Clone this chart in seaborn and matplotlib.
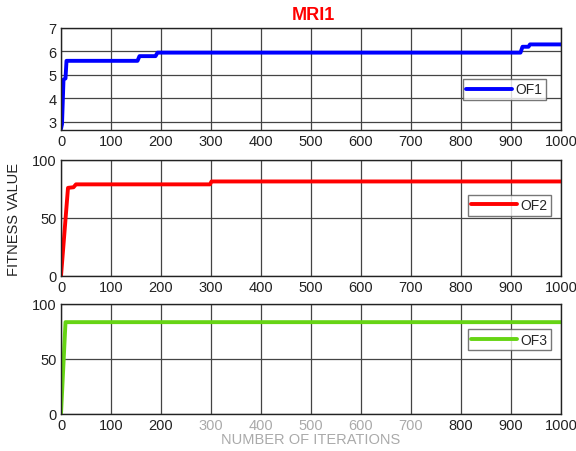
import matplotlib
matplotlib.use("Agg")
import matplotlib.pyplot as plt
import seaborn as sns
import pandas as pd

# ---- data ----
iters_of1 = [0, 2, 5, 9, 11, 153, 157, 189, 193, 919, 923, 935, 938, 1000]
vals_of1 = [2.7, 2.9, 4.8, 4.85, 5.6, 5.6, 5.8, 5.8, 5.95, 5.95, 6.2, 6.2, 6.3, 6.3]
iters_of2 = [0, 14, 25, 30, 298, 301, 1000]
vals_of2 = [0, 76, 76.5, 79, 79, 81.5, 81.5]
iters_of3 = [0, 9, 1000]
vals_of3 = [0, 83.5, 83.5]
x_ticks = [0, 100, 200, 300, 400, 500, 600, 700, 800, 900, 1000]
y_ticks_1 = [3, 4, 5, 6, 7]
y_ticks_23 = [0, 50, 100]

sns.set_theme(style="white")
plt.rcParams['font.family'] = ['Liberation Sans', 'DejaVu Sans']

fig = plt.figure(figsize=(5.76, 4.52), dpi=100)
left, width = 61 / 576, 500 / 576
rects = [
    (left, 1 - 131 / 452, width, 102 / 452),
    (left, 1 - 277 / 452, width, 116 / 452),
    (left, 1 - 415 / 452, width, 110 / 452),
]
series = [
    (iters_of1, vals_of1, "OF1", "#0000FF", (2.65, 7), y_ticks_1, (0.803, 0.50)),
    (iters_of2, vals_of2, "OF2", "#FF0000", (0, 100), y_ticks_23, (0.813, 0.70)),
    (iters_of3, vals_of3, "OF3", "#66D414", (0, 100), y_ticks_23, (0.813, 0.77)),
]

axes = []
for rect, (xs, ys, name, col, ylim, yt, lpos) in zip(rects, series):
    ax = fig.add_axes(rect)
    df = pd.DataFrame({"x": xs, "y": ys, "s": name})
    sns.lineplot(data=df, x="x", y="y", hue="s", palette=[col], sort=False,
                 estimator=None, linewidth=2.8, ax=ax)
    ax.set_xlim(0, 1000)
    ax.set_ylim(*ylim)
    ax.set_xticks(x_ticks)
    ax.set_yticks(yt)
    ax.set_xlabel("")
    ax.set_ylabel("")
    ax.grid(True, color="#444444", linewidth=0.9)
    ax.set_axisbelow(True)
    for sp in ax.spines.values():
        sp.set_color("#222222")
        sp.set_linewidth(1.0)
        sp.set_visible(True)
    ax.tick_params(axis="both", labelsize=10.5, length=0, pad=3, colors="#222222")
    leg = ax.legend(loc="upper left", bbox_to_anchor=lpos, fontsize=10,
                    frameon=True, fancybox=False, handlelength=3.3,
                    borderpad=0.25, handletextpad=0.25, borderaxespad=0)
    leg.get_frame().set_edgecolor("#555555")
    leg.get_frame().set_linewidth(1.0)
    for h in leg.get_lines():
        h.set_linewidth(2.8)
    axes.append(ax)

# faded tick labels on bottom axes (as in reference)
for lbl in axes[2].get_xticklabels():
    if lbl.get_text() in ("300", "400", "500", "600", "700"):
        lbl.set_color("#aaaaaa")

fig.text(0.5 + 25 / 576, 1 - 15 / 452, "MRI1", color="#FF0000", fontsize=13,
         fontweight="bold", ha="center", va="center")
fig.text(14 / 576, 1 - 220 / 452, "FITNESS VALUE", rotation=90, fontsize=10.5,
         ha="center", va="center", color="#222222")
fig.text(311 / 576, 1 - 440 / 452, "NUMBER OF ITERATIONS", fontsize=10.5,
         ha="center", va="center", color="#aaaaaa")

fig.savefig("out.png", dpi=100)
